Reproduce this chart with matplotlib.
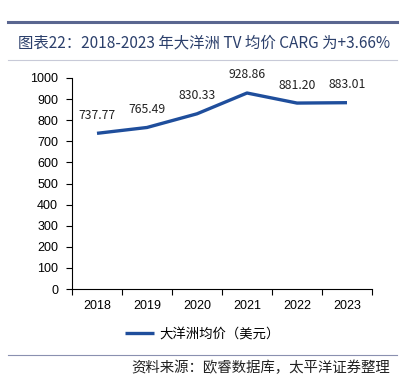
import matplotlib.pyplot as plt
from matplotlib.lines import Line2D

plt.rcParams['font.family'] = ['Noto Sans CJK SC', 'DejaVu Sans']

years = ['2018', '2019', '2020', '2021', '2022', '2023']
prices = [737.77, 765.49, 830.33, 928.86, 881.20, 883.01]
price_labels = ['737.77', '765.49', '830.33', '928.86', '881.20', '883.01']

title = '图表22：2018-2023 年大洋洲 TV 均价 CARG 为+3.66%'
legend_name = '大洋洲均价（美元）'
source = '资料来源：欧睿数据库，太平洋证券整理'

line_color = '#1f4e9c'
navy = '#2b3f6b'

fig = plt.figure(figsize=(4.05, 3.92), dpi=100)

# линии-разделители
fig.add_artist(Line2D([8/405, 397/405], [1-22/392, 1-22/392], color='#5a6690', linewidth=2.2))
fig.add_artist(Line2D([8/405, 397/405], [1-60/392, 1-60/392], color='#c8cad8', linewidth=0.8))
fig.add_artist(Line2D([8/405, 397/405], [1-355/392, 1-355/392], color='#8a90b0', linewidth=0.8))

fig.text(18/405, 1-43/392, title, fontsize=11.1, color=navy, va='center', ha='left')
fig.text(390/405, 1-368/392, source, fontsize=10.4, color='#222222', va='center', ha='right', style='italic')

ax = fig.add_axes([72/405, 1-289/392, 300/405, 211/392])
x = list(range(len(years)))
ax.plot(x, prices, color=line_color, linewidth=2.4, solid_capstyle='butt', label=legend_name)

for xi, v, s in zip(x, prices, price_labels):
    ax.annotate(s, (xi, v), xytext=(0, 13), textcoords='offset points',
                ha='center', va='center', fontsize=8.8, color='#222222')

ax.set_xlim(-0.5, 5.5)
ax.set_ylim(0, 1000)
ax.set_yticks(range(0, 1001, 100))
ax.set_xticks([i - 0.5 for i in range(7)])
ax.set_xticklabels([])
ax.set_xticks(x, minor=True)
ax.set_xticklabels(years, minor=True)
ax.tick_params(axis='x', which='minor', length=0, pad=8)
ax.tick_params(axis='x', which='major', length=4, direction='out')
ax.tick_params(axis='y', length=4, direction='out', pad=6)
for lab in ax.get_xticklabels(minor=True) + ax.get_yticklabels():
    lab.set_fontfamily('Liberation Sans')
    lab.set_fontsize(9)
ax.spines['top'].set_visible(False)
ax.spines['right'].set_visible(False)

leg = fig.legend(loc='center', bbox_to_anchor=(0.5, 1-334/392), frameon=False,
                 fontsize=9.6, handlelength=2.2, handletextpad=0.4)

fig.savefig('out.png', dpi=100)
